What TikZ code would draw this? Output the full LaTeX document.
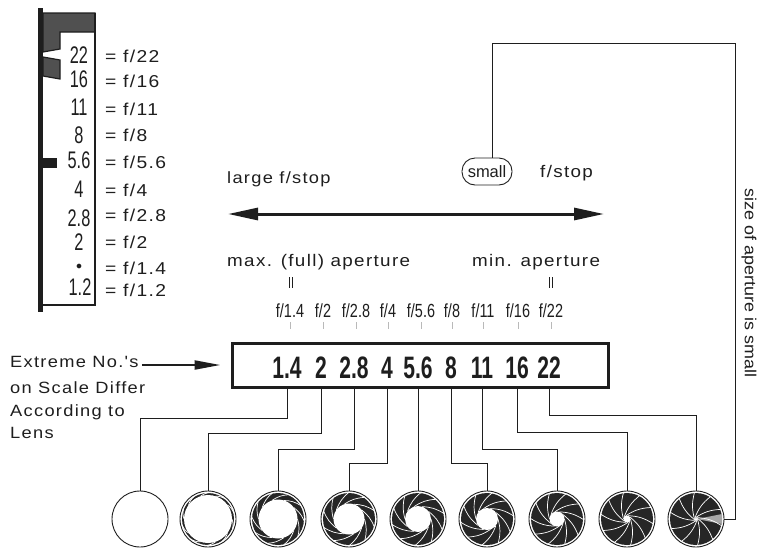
\documentclass[tikz,border=0pt]{standalone}
\usepackage{fontspec}
\setmainfont{Liberation Sans}
\newfontfamily\lab{Liberation Sans}[FakeStretch=1.12,LetterSpace=8]
\newfontfamily\labn{Liberation Sans}[FakeStretch=1.12]
\newfontfamily\condA{Liberation Sans}[FakeStretch=0.68]
\newfontfamily\condBold{Liberation Sans Bold}[FakeStretch=0.68]
\newfontfamily\condB{Liberation Sans}[FakeStretch=0.76]
\usetikzlibrary{arrows.meta,calc}
\definecolor{ink}{HTML}{1E1E1E}
\definecolor{blockgray}{HTML}{505050}
\definecolor{irisdark}{HTML}{262626}
\tikzset{
 lbl/.style={font=\lab\fontsize{16.8}{19}\selectfont, inner sep=0, anchor=base west, text=ink},
 eqlbl/.style={font=\lab\fontsize{17.2}{19}\selectfont, inner sep=0, anchor=base west, text=ink},
 extlbl/.style={font=\lab\fontsize{16.3}{19}\selectfont, inner sep=0, anchor=base west, text=ink},
 scalenum/.style={font=\condA\fontsize{24}{26}\selectfont, inner sep=0, anchor=base, text=ink},
 fsm/.style={font=\condB\fontsize{19}{21}\selectfont, inner sep=0, anchor=base, text=ink},
 bignum/.style={font=\condBold\fontsize{31}{33}\selectfont, inner sep=0, anchor=base, text=ink},
 conn/.style={draw=ink, line width=0.8pt},
 irisnode/.style={circle, draw=ink, line width=0.9pt, minimum size=56pt, inner sep=0},
}
\newcommand\irisdraw[2]{%
 \begin{scope}[shift={(#1.center)}]
  \fill[irisdark] (0,0) circle (26pt);
  \fill[white] (0,0) circle (#2pt);
  \pgfmathsetmacro\sw{acos(#2/26)}
  \foreach \k in {0,...,9}{
   \draw[white,line width=0.7pt] (\k*36:#2) to[bend left=15] (\k*36+\sw:26.5);
  }
 \end{scope}}
\begin{document}
\begin{tikzpicture}[x=1pt,y=-1pt]
\useasboundingbox (0,0) rectangle (760,547);
% ---- left scale ----
\fill[ink] (38,8) rectangle (43,312);
\filldraw[fill=blockgray, draw=ink, line width=1.2pt] (43,13) -- (95,13) -- (95,32) -- (60,32) -- (60,49) -- (43,52) -- cycle;
\filldraw[fill=blockgray, draw=ink, line width=1.2pt] (43,57) -- (60,60) -- (60,79) -- (43,76) -- cycle;
\fill[ink] (43,158) rectangle (57,168);
\draw[ink, line width=2.5pt] (95,13) -- (95,305) -- (42,305);
\node[scalenum] (s22) at (79,63) {22};
\node[scalenum] (s16) at (79,87) {16};
\node[scalenum] (s11) at (79,115) {11};
\node[scalenum] (s8) at (79,143) {8};
\node[scalenum] (s56) at (79,168) {5.6};
\node[scalenum] (s4) at (79,197) {4};
\node[scalenum] (s28) at (79,226) {2.8};
\node[scalenum] (s2) at (79,250) {2};
\node[scalenum, font=\fontsize{12}{12}\selectfont] (s14) at (79,269) {$\bullet$};
\node[scalenum] (s12) at (80,295) {1.2};
\node[eqlbl] (q22) at (105,62) {= f/22};
\node[eqlbl] (q16) at (105,87) {= f/16};
\node[eqlbl] (q11) at (105,115) {= f/11};
\node[eqlbl] (q8) at (105,141) {= f/8};
\node[eqlbl] (q56) at (105,168) {= f/5.6};
\node[eqlbl] (q4) at (105,196) {= f/4};
\node[eqlbl] (q28) at (105,221) {= f/2.8};
\node[eqlbl] (q2) at (105,248) {= f/2};
\node[eqlbl] (q14) at (105,274) {= f/1.4};
\node[eqlbl] (q12) at (105,296) {= f/1.2};
% ---- middle labels ----
\node[lbl, font=\lab\fontsize{16.3}{19}\selectfont] (large) at (227,183) {large f/stop};
\node[draw=ink, line width=0.9pt, rounded corners=13pt, minimum width=50pt, minimum height=27pt, inner sep=0, font=\fontsize{16.5}{18}\selectfont, text=ink] (small) at (487,171.5) {small};
\node[lbl] (fstop) at (540,177) {f/stop};
\coordinate (aL) at (228,214);
\coordinate (aR) at (604,214);
\draw[ink, line width=3pt, {Triangle[length=30pt,width=12pt]}-{Triangle[length=30pt,width=12pt]}] (aL) -- (aR);
\node[lbl] (maxa) at (227,266) {max. (full) aperture};
\node[lbl] (mina) at (472,266) {min. aperture};
\draw[ink, line width=0.7pt] (289.5,277) -- ++(0,11) (292.5,277) -- ++(0,11);
\draw[ink, line width=0.7pt] (549,277) -- ++(0,11) (552,277) -- ++(0,11);
\foreach \n/\x/\t in {1/290/{f/1.4}, 2/323/{f/2}, 3/356/{f/2.8}, 4/388/{f/4}, 5/421/{f/5.6}, 6/452/{f/8}, 7/483/{f/11}, 8/518/{f/16}, 9/551/{f/22}}{
  \node[fsm] (f\n) at (\x,317) {\t};
  \draw[gray!55, line width=0.5pt] (\x,322) -- (\x,329);
}
% ---- main scale box ----
\node[draw=ink, line width=3pt, minimum width=376pt, minimum height=44pt, inner sep=0] (box) at (420,365) {};
\foreach \n/\x/\t in {1/287/1.4, 2/321/2, 3/354/2.8, 4/387/4, 5/418/5.6, 6/451/8, 7/482/11, 8/517/16, 9/549/22}{
  \node[bignum] (n\n) at (\x,378) {\t};
}
% ---- extreme note ----
\node[extlbl] (e1) at (10,367) {Extreme No.'s};
\node[extlbl] (e2) at (10,393) {on Scale Differ};
\node[extlbl] (e3) at (10,416) {According to};
\node[extlbl] (e4) at (10,438) {Lens};
\draw[ink, line width=2.2pt, -{Triangle[length=26pt,width=9pt]}, shorten >=10pt] ($(e1.base east)+(3,-2)$) -- (box.west);
% ---- apertures ----
\foreach \n/\x in {1/140, 2/208, 3/278, 4/349, 5/418, 6/487, 7/557, 8/627, 9/696}{
  \node[irisnode] (ap\n) at (\x,519) {};
}
\irisdraw{ap2}{24}
\irisdraw{ap3}{19.5}
\irisdraw{ap4}{15.5}
\irisdraw{ap5}{13}
\irisdraw{ap6}{11}
\irisdraw{ap7}{7.5}
\irisdraw{ap8}{3.5}
\begin{scope}[shift={(ap9.center)}]
  \fill[irisdark] (0,0) circle (26pt);
  \fill[gray!70] (1,0) -- (26,-5) -- (26,5) -- cycle;
  \fill[white] (0,0) circle (1.5pt);
  \pgfmathsetmacro\sw{acos(1.5/26)}
  \foreach \k in {0,...,9}{
   \draw[white,line width=0.7pt] (\k*36:1.5) to[bend left=15] (\k*36+\sw:26.5);
  }
\end{scope}
% ---- connectors ----
\draw[conn] (n1 |- box.south) -- ++(0,30) -| (ap1.north);
\draw[conn] (n2 |- box.south) -- ++(0,45) -| (ap2.north);
\draw[conn] (n3 |- box.south) -- ++(0,61) -| (ap3.north);
\draw[conn] (n4 |- box.south) -- ++(0,75) -| (ap4.north);
\draw[conn] (n5 |- box.south) -- (ap5.north);
\draw[conn] (n6 |- box.south) -- ++(0,75) -| (ap6.north);
\draw[conn] (n7 |- box.south) -- ++(0,61) -| (ap7.north);
\draw[conn] (n8 |- box.south) -- ++(0,44) -| (ap8.north);
\draw[conn] (n9 |- box.south) -- ++(0,27) -| (ap9.north);
\coordinate (c1) at (735,43);
\coordinate (c2) at (492,43);
\draw[conn] (ap9.east) -| (c1) -- (c2) -- (c2 |- small.north);
\node[font=\labn\fontsize{16}{18}\selectfont, text=ink, rotate=-90, inner sep=0] (side) at (749,283) {size of aperture is small};
\end{tikzpicture}
\end{document}
